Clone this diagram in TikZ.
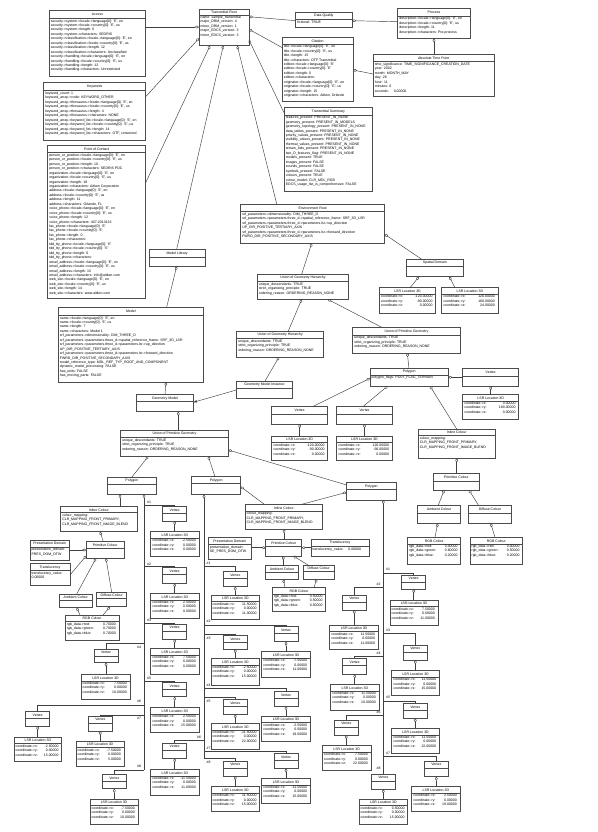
\documentclass[tikz,border=0pt]{standalone}
\usepackage{fontspec}
\setmainfont{Liberation Sans}
\usetikzlibrary{calc,arrows.meta}
\newcommand\dfont{\fontsize{3.5}{4.45}\selectfont}
\tikzset{
  ubx/.style={draw=black!70,line width=0.45pt,fill=white,rectangle,inner sep=0pt,outer sep=0pt},
  sepl/.style={draw=black!70,line width=0.45pt},
  ttl/.style={inner sep=0pt,font=\dfont},
  atr/.style={inner sep=0pt,font=\dfont,anchor=north west,align=left},
  lnk/.style={draw=black!75,line width=0.45pt},
  agg/.style={lnk,{Diamond[open,length=4.2pt,width=2.8pt]}-},
  arr/.style={lnk,-{Latex[length=3.6pt,width=2.6pt]}},
  num/.style={inner sep=0pt,font=\dfont},
}
\newcommand\ub[8]{%
  \node[ubx,minimum width={(#4)-(#2)},minimum height={(#5)-(#3)}] (#1) at ({((#2)+(#4))/2},{((#3)+(#5))/2}) {};
  \draw[sepl] ($(#1.north west)+(0,#6)$) -- ($(#1.north east)+(0,#6)$);
  \node[ttl] at ($(#1.north)+(0,{(#6)/2+0.2})$) {#7};
  \node[atr] at ($(#1.north west)+(1.4,{(#6)+1.0})$) {#8};
}
\newcommand\vtx[5]{\ub{#1}{#2}{#3}{#4}{#5}{7}{Vertex}{}}
\newcommand\lsr[8]{\ub{#1}{#2}{#3}{#4}{#5}{6.5}{LSR Location 3D}{coordinate->x:\\coordinate->y:\\coordinate->z:}%
  \node[atr,anchor=north east,align=right] at ($(#1.north east)+(-3,7.5)$) {#6\\#7\\#8};}
\newcommand\rgbc[8]{\ub{#1}{#2}{#3}{#4}{#5}{6.5}{RGB Colour}{rgb\_data->red:\\rgb\_data->green:\\rgb\_data->blue:}%
  \node[atr,anchor=north east,align=right] at ($(#1.north east)+(-3,7.5)$) {#6\\#7\\#8};}
\begin{document}
\catcode`\_=12
\begin{tikzpicture}[x=1pt,y=-1pt]
\fill[white] (0,0) rectangle (597,832);
\useasboundingbox (0,0) rectangle (597,832);

% ---------------- top left ----------------
\ub{access}{49.3}{10}{145.7}{76}{8.3}{Access}{security->system->locale->language[0]: 'E', en\\
security->system->locale->country[0]: 'E', us\\
security->system->length: 6\\
security->system->characters: SEDRIS\\
security->classification->locale->language[0]: 'E', en\\
security->classification->locale->country[0]: 'E', us\\
security->classification->length: 12\\
security->classification->characters: Unclassified\\
security->handling->locale->language[0]: 'E', en\\
security->handling->locale->country[0]: 'E', us\\
security->handling->length: 12\\
security->handling->characters: Unrestricted}

\ub{keywords}{43.7}{82.7}{145.7}{140.7}{8}{Keywords}{keyword_count: 1\\
keyword_array->code: KEYWORD_OTHER\\
keyword_array->thesaurus->locale->language[0]: 'E', en\\
keyword_array->thesaurus->locale->country[0]: 'E', us\\
keyword_array->thesaurus->length: 4\\
keyword_array->thesaurus->characters: NONE\\
keyword_array->keyword_list->locale->language[0]: 'E', en\\
keyword_array->keyword_list->locale->country[0]: 'E', us\\
keyword_array->keyword_list->length: 14\\
keyword_array->keyword_list->characters: OTF, converted}

\ub{poc}{47.7}{145.3}{145.7}{298.7}{7.3}{Point of Contact}{person_or_position->locale->language[0]: 'E', en\\
person_or_position->locale->country[0]: 'E', us\\
person_or_position->length: 10\\
person_or_position->characters: SEDRIS POC\\
organization->locale->language[0]: 'E', en\\
organization->locale->country[0]: 'E', us\\
organization->length: 18\\
organization->characters: Aitken Corporation\\
address->locale->language[0]: 'E', en\\
address->locale->country[0]: 'E', us\\
address->length: 11\\
address->characters: Orlando, FL\\
voice_phone->locale->language[0]: 'E', en\\
voice_phone->locale->country[0]: 'E', us\\
voice_phone->length: 12\\
voice_phone->characters: 407-2013123\\
fax_phone->locale->language[0]: 'E'\\
fax_phone->locale->country[0]: 'E'\\
fax_phone->length: 0\\
fax_phone->characters:\\
tdd_tty_phone->locale->language[0]: 'E'\\
tdd_tty_phone->locale->country[0]: 'E'\\
tdd_tty_phone->length: 0\\
tdd_tty_phone->characters:\\
email_address->locale->language[0]: 'E', en\\
email_address->locale->country[0]: 'E', us\\
email_address->length: 15\\
email_address->characters: info@aitken.com\\
web_site->locale->language[0]: 'E', en\\
web_site->locale->country[0]: 'E', us\\
web_site->length: 14\\
web_site->characters: www.aitken.com}

% ---------------- top middle / right ----------------
\ub{troot}{199}{9.3}{249}{45.7}{5.5}{Transmittal Root}{name: sample_transmittal\\
major_DRM_version: 4\\
minor_DRM_version: 1\\
major_EDCS_version: 3\\
minor_EDCS_version: 3}

\ub{dq}{295.7}{12.3}{352}{27.3}{7}{Data Quality}{fictional: TRUE}

\ub{citation}{282.3}{37.3}{353}{101.7}{6.7}{Citation}{title->locale->language[0]: 'E', en\\
title->locale->country[0]: 'E', us\\
title->length: 15\\
title->characters: OTF Transmittal\\
edition->locale->language[0]: 'E'\\
edition->locale->country[0]: 'E'\\
edition->length: 0\\
edition->characters:\\
originator->locale->language[0]: 'E', en\\
originator->locale->country[0]: 'E', us\\
originator->length: 15\\
originator->characters: Aitken, Orlando}

\ub{tsum}{284.3}{107.3}{372.3}{191.7}{7.7}{Transmittal Summary}{features_present: PRESENT_IN_NONE\\
geometry_present: PRESENT_IN_MODELS\\
geometry_topology_present: PRESENT_IN_NONE\\
data_tables_present: PRESENT_IN_NONE\\
priority_values_present: PRESENT_IN_NONE\\
visibility_values_present: PRESENT_IN_NONE\\
thermal_values_present: PRESENT_IN_NONE\\
terrain_lods_present: PRESENT_IN_NONE\\
two_D_features_flag: PRESENT_IN_NONE\\
models_present: TRUE\\
images_present: FALSE\\
sounds_present: FALSE\\
symbols_present: FALSE\\
colours_present: TRUE\\
colour_model: CLR_MDL_RGB\\
EDCS_usage_list_is_comprehensive: FALSE}

\ub{process}{397.7}{8.3}{470.3}{38.3}{7.7}{Process}{description->locale->language[0]: 'E', en\\
description->locale->country[0]: 'E', us\\
description->length: 11\\
description->characters: Pre-process}

\ub{atp}{373.3}{54.3}{494}{96.7}{7.3}{Absolute Time Point}{time_significance: TIME_SIGNIFICANCE_CREATION_DATE\\
year: 2002\\
month: MONTH_MAY\\
day: 26\\
hour: 11\\
minutes: 0\\
seconds:\ \ \ \ \ 0.00000}

\ub{envroot}{240.7}{204}{384.7}{243.3}{7.7}{Environment Root}{srf_parameters->dimensionality: DIM_THREE_D\\
srf_parameters->parameters.three_d->spatial_reference_frame: SRF_3D_LSR\\
srf_parameters->parameters.three_d->parameters.lsr->up_direction\\
UP_DIR_POSITIVE_TERTIARY_AXIS\\
srf_parameters->parameters.three_d->parameters.lsr->forward_direction\\
FWRD_DIR_POSITIVE_SECONDARY_AXIS}

% ---------------- model side ----------------
\ub{modlib}{149}{249}{205.3}{266.3}{8.3}{Model Library}{}

\ub{model}{58.3}{307}{203.3}{382}{8.3}{Model}{name->locale->language[0]: 'E', en\\
name->locale->country[0]: 'E', us\\
name->length: 7\\
name->characters: Model 1\\
srf_parameters->dimensionality: DIM_THREE_D\\
srf_parameters->parameters.three_d->spatial_reference_frame: SRF_3D_LSR\\
srf_parameters->parameters.three_d->parameters.lsr->up_direction\\
UP_DIR_POSITIVE_TERTIARY_AXIS\\
srf_parameters->parameters.three_d->parameters.lsr->forward_direction\\
FWRD_DIR_POSITIVE_SECONDARY_AXIS\\
model_reference_type: MDL_REF_TYP_ROOT_AND_COMPONENT\\
dynamic_model_processing: FALSE\\
has_units: FALSE\\
has_moving_parts: FALSE}

\ub{geomodel}{136.7}{394.3}{193.3}{411.7}{7.3}{Geometry Model}{}

% ---------------- environment side ----------------
\ub{spdom}{406.7}{259.3}{463}{276.7}{7}{Spatial Domain}{}
\lsr{lsrA}{379.3}{287.7}{435.7}{313.3}{-120.00000}{-90.00000}{0.00000}
\lsr{lsrB}{441.7}{287.7}{498}{313.3}{120.00000}{180.00000}{24.00000}

\ub{ugh1}{257.3}{274}{348.7}{299.3}{7.7}{Union of Geometry Hierarchy}{unique_descendants: TRUE\\
strict_organizing_principle: TRUE\\
ordering_reason: ORDERING_REASON_NONE}
\ub{ugh2}{236.7}{331}{323.7}{357}{7.7}{Union of Geometry Hierarchy}{unique_descendants: TRUE\\
strict_organizing_principle: TRUE\\
ordering_reason: ORDERING_REASON_NONE}
\ub{upgR}{352.7}{327.3}{460.3}{353}{7.7}{Union of Primitive Geometry}{unique_descendants: TRUE\\
strict_organizing_principle: TRUE\\
ordering_reason: ORDERING_REASON_NONE}
\ub{gmi}{236.3}{381}{292.7}{398.3}{7.7}{Geometry Model Instance}{}

\ub{polyT}{370}{368.7}{448.3}{386}{6.3}{Polygon}{polygon_flags: POLY_FLAG_TERRAIN}
\ub{vtxT}{462.7}{368.3}{518.7}{386}{8}{Vertex}{}
\lsr{lsrT}{462.7}{394.3}{518.7}{419.3}{0.00000}{180.00000}{0.00000}
\ub{vtxTa}{271.7}{406.3}{327.7}{424}{8}{Vertex}{}
\ub{vtxTb}{336.7}{406.3}{392.3}{424}{8}{Vertex}{}
\lsr{lsrTa}{271.7}{436}{327.7}{460.7}{-120.00000}{-90.00000}{0.00000}
\lsr{lsrTb}{336.7}{436}{392.3}{460.7}{120.00000}{-90.00000}{0.00000}

\ub{inlR}{418.3}{429}{495}{458.3}{6.7}{Inline Colour}{colour_mapping:\\
CLR_MAPPING_FRONT_PRIMARY,\\
CLR_MAPPING_FRONT_IMAGE_BLEND}
\ub{pcR}{433.3}{473.3}{479.3}{490}{8}{Primitive Colour}{}
\ub{ambR}{417.3}{505}{460.7}{523.3}{8}{Ambient Colour}{}
\ub{difR}{468.3}{505}{511.7}{523.3}{8}{Diffuse Colour}{}
\rgbc{rgbR1}{407.7}{537.3}{460.7}{564}{0.00000}{0.60000}{0.20000}
\rgbc{rgbR2}{470}{537.3}{522.7}{564}{0.00000}{0.50000}{0.20000}

% ---------------- model geometry ----------------
\ub{upgL}{120.7}{430}{228.3}{456.3}{7.7}{Union of Primitive Geometry}{unique_descendants: TRUE\\
strict_organizing_principle: TRUE\\
ordering_reason: ORDERING_REASON_NONE}
\ub{polyL}{107.3}{477.3}{156.3}{494}{7}{Polygon}{}
\ub{polyM}{191.7}{476.7}{240.7}{494.3}{7}{Polygon}{}
\ub{polyR}{346.7}{482.7}{396}{500}{7}{Polygon}{}

\ub{inlL}{60.7}{506.7}{137}{531.7}{6}{Inline Colour}{colour_mapping:\\
CLR_MAPPING_FRONT_PRIMARY,\\
CLR_MAPPING_FRONT_IMAGE_BLEND}
\ub{pdL}{30}{540}{69.3}{560.7}{7}{Presentation Domain}{presentation_domain:\\
PRES_DOM_OTW}
\ub{pcL}{86.3}{541.7}{124}{558.3}{7}{Primitive Colour}{}
\ub{trL}{30}{563.7}{70}{585.7}{7}{Translucency}{translucency_value:\\
0.00000}
\ub{ambL}{59.3}{594}{92.3}{607.7}{6.3}{Ambient Colour}{}
\ub{difL}{96.7}{592.3}{126.7}{606.7}{6.3}{Diffuse Colour}{}
\rgbc{rgbL}{65.3}{615}{119}{640}{0.70000}{0.70000}{0.70000}

\ub{inlM}{245}{504.3}{322.7}{529}{6.7}{Inline Colour}{colour_mapping:\\
CLR_MAPPING_FRONT_PRIMARY,\\
CLR_MAPPING_FRONT_IMAGE_BLEND}
\ub{pdM}{208.3}{537.7}{251}{559}{7}{Presentation Domain}{presentation_domain:\\
SE_PRES_DOM_OTW}
\ub{pcM}{265.7}{539.3}{301.7}{556}{7}{Primitive Colour}{}
\ub{trM}{311}{539.3}{369}{556.7}{7}{Translucency}{translucency_value:\ \ \ \ \ 0.00000}
\ub{ambM}{265.7}{565.7}{298.3}{579.3}{6.3}{Ambient Colour}{}
\ub{difM}{303.3}{565}{334.3}{579}{6.3}{Diffuse Colour}{}
\rgbc{rgbM}{272.3}{587.3}{325.7}{611.7}{0.50000}{0.50000}{0.50000}

% ---------------- vertices of left polygon ----------------
\vtx{vL1}{162.7}{506.7}{186.7}{521} \lsr{lL1}{150.7}{531.7}{199}{556}{-2.50000}{0.00000}{0.00000}
\vtx{vL2}{162.7}{567.7}{186.7}{583.3} \lsr{lL2}{150.7}{593.3}{199}{618.3}{2.50000}{0.00000}{0.00000}
\vtx{vL3}{162.7}{624}{186.7}{639} \lsr{lL3}{150.7}{648.3}{199}{674.3}{7.50000}{0.00000}{0.00000}
\vtx{vL4}{94}{649}{118}{662.3} \lsr{lL4}{81}{674.3}{130}{699}{7.50000}{0.00000}{10.00000}
\vtx{vL5}{162.7}{682.7}{186.7}{696.7} \lsr{lL5}{150.7}{707.7}{199}{732.3}{2.50000}{0.00000}{15.00000}
\vtx{vL6}{25.7}{711.7}{49.7}{726} \lsr{lL6}{14}{737}{61.7}{761.7}{-2.50000}{0.00000}{15.00000}
\vtx{vL7}{88.3}{716}{112.3}{731} \lsr{lL7}{76}{741}{124}{766.3}{-7.50000}{0.00000}{5.00000}
\vtx{vL8}{102.3}{774.3}{126.3}{788.7} \lsr{lL8}{90}{799}{138}{824}{-7.50000}{0.00000}{10.00000}

% ---------------- vertices of middle polygon ----------------
\vtx{vM1}{223.3}{571.7}{247.3}{586.7} \lsr{lM1}{211}{595}{259.7}{619.3}{11.50000}{0.00000}{11.00000}
\vtx{vM2}{274}{626.7}{298}{641.7} \lsr{lM2}{261.7}{651.7}{310.3}{677.3}{-7.50000}{0.00000}{11.00000}
\vtx{vM3}{223.3}{635.7}{247.3}{649} \lsr{lM3}{211}{658.3}{259.7}{685}{-2.50000}{0.00000}{15.00000}
\vtx{vM4}{274}{691.7}{298}{706} \lsr{lM4}{261.7}{716}{310.3}{741}{-2.50000}{0.00000}{19.00000}
\vtx{vM5}{223.3}{699.3}{247.3}{714.3} \lsr{lM5}{211}{723.3}{259.7}{749.3}{-11.50000}{0.00000}{22.00000}
\vtx{vM6}{162.7}{743}{186.7}{758.3} \lsr{lM6}{150.7}{769.3}{199}{795}{-11.50000}{0.00000}{11.00000}
\vtx{vM7}{274}{753.3}{298}{768.3} \lsr{lM7}{261.7}{778.3}{310.3}{803.3}{-11.50000}{0.00000}{15.00000}
\vtx{vM8}{223.3}{761}{247.3}{776} \lsr{lM8}{211}{786.7}{259.7}{811.7}{11.50000}{0.00000}{15.00000}

% ---------------- vertices of right polygon ----------------
\vtx{vR1}{401.7}{575}{425.7}{589} \lsr{lR1}{390}{600}{438}{625}{7.50000}{0.00000}{11.00000}
\vtx{vR2}{342.3}{595}{366.3}{610} \lsr{lR2}{329.7}{625}{378.3}{649}{11.50000}{0.00000}{11.00000}
\vtx{vR3}{403.3}{645}{427.3}{660} \lsr{lR3}{391.7}{670.7}{439.3}{695.7}{11.50000}{0.00000}{15.00000}
\vtx{vR4}{342.7}{658.3}{366.7}{674.3} \lsr{lR4}{330.7}{684.3}{379}{710}{11.50000}{0.00000}{10.00000}
\vtx{vR5}{403.3}{703.3}{427.3}{718.3} \lsr{lR5}{391.7}{728.3}{439.3}{753.3}{11.50000}{0.00000}{22.00000}
\vtx{vR6}{334.3}{720}{358.3}{735} \lsr{lR6}{322.3}{745.7}{371}{770}{7.50000}{0.00000}{22.00000}
\vtx{vR7}{424.3}{761}{448.3}{776.7} \lsr{lR7}{411.7}{786.7}{460}{811}{2.50000}{0.00000}{19.00000}
\vtx{vR8}{371.3}{774}{395.3}{789.3} \lsr{lR8}{359}{799}{407.7}{824}{0.50000}{0.00000}{15.00000}

% ---------------- connectors: top ----------------
\draw[agg] (troot.west |- 0,27) -- (access.east |- 0,27);
\draw[agg] (troot.west |- 0,38.3) -- (keywords.east |- 0,96.7);
\draw[agg] (troot.south -| 210,0) -- (poc.east |- 0,182.7);
\draw[agg] (troot.south -| 223.3,0) -- (modlib.north -| 176.7,0);
\draw[agg] (troot.south -| 237.3,0) -- (envroot.north -| 276.7,0);
\draw[agg] (troot.east |- 0,16.7) -- (dq.west |- 0,20.7);
\draw[agg] (troot.east |- 0,29.3) -- (citation.west |- 0,47.7);
\draw[agg] (troot.east |- 0,40) -- (tsum.west |- 0,113.3);
\draw[agg] (dq.east |- 0,20.7) -- (process.west |- 0,21.7);
\draw[agg] (process.south -| 434,0) -- (atp.north -| 434,0);
\draw[agg] (citation.east |- 0,70) -- (atp.west |- 0,74);

% ---------------- connectors: environment ----------------
\draw[agg] (envroot.east |- 0,234.3) -- (spdom.north -| 421.7,0);
\draw[agg] (envroot.south -| 311.7,0) -- (ugh1.north -| 301.7,0);
\draw[agg] (spdom.south -| 419,0) -- (lsrA.north -| 410,0);
\draw[agg] (spdom.south -| 449.3,0) -- (lsrB.north -| 455,0);
\draw[agg] (ugh1.south -| 301.7,0) -- (ugh2.north -| 288.3,0);
\draw[agg] (ugh1.south -| 327.7,0) -- (upgR.north -| 381.7,0);
\draw[agg] (ugh2.south -| 279,0) -- (gmi.north -| 265,0);
\draw[arr] (gmi.west |- 0,390) -- (geomodel.east |- 0,402.3);
\draw[agg] (upgR.south -| 407.3,0) -- (polyT.north -| 409,0);
\draw[agg] (polyT.east |- 0,377.3) -- (vtxT.west |- 0,377.3);
\draw[agg] (vtxT.south) -- (vtxT.south |- lsrT.north);
\draw[agg] (polyT.west |- 0,378.3) -- (vtxTa.north -| 313.3,0);
\draw[agg] (polyT.south -| 387.7,0) -- (vtxTb.north -| 363.3,0);
\draw[agg] (vtxTa.south) -- (vtxTa.south |- lsrTa.north);
\draw[agg] (vtxTb.south) -- (vtxTb.south |- lsrTb.north);
\draw[agg] (polyT.south -| 430,0) -- (inlR.north -| 456.7,0);
\draw[agg] (inlR.south -| 456.7,0) -- (pcR.north -| 456.7,0);
\draw[agg] (pcR.south -| 444.3,0) -- (ambR.north -| 438.3,0);
\draw[agg] (pcR.south -| 469,0) -- (difR.north -| 478.3,0);
\draw[agg] (ambR.south -| 437.7,0) -- (rgbR1.north -| 435,0);
\draw[agg] (difR.south -| 490.7,0) -- (rgbR2.north -| 495,0);

% ---------------- connectors: model ----------------
\draw[agg] (modlib.south -| 176.7,0) -- (model.north -| 166.7,0);
\draw[agg] (model.south -| 166,0) -- (geomodel.north -| 165,0);
\draw[agg] (geomodel.south -| 178.3,0) -- (upgL.north -| 178.3,0);
\draw[agg] (upgL.south -| 148.3,0) -- (polyL.north -| 131.7,0);
\draw[agg] (upgL.south -| 208.3,0) -- (polyM.north -| 215,0);
\draw[agg] (upgL.east |- 0,450) -- (polyR.west |- 0,485);

\draw[agg] (polyL.south -| 120,0) -- (inlL.north -| 120,0);
\draw[agg] (inlL.south -| 100,0) -- (pcL.north -| 103.3,0);
\draw[agg] (pcL.west |- 0,550) -- (pdL.east |- 0,550);
\draw[agg] (pcL.west |- 0,555.7) -- (trL.east |- 0,575);
\draw[agg] (pcL.south -| 96,0) -- (ambL.north -| 76.7,0);
\draw[agg] (pcL.south -| 106,0) -- (difL.north -| 111.7,0);
\draw[agg] (ambL.south -| 76.7,0) -- (rgbL.north -| 80,0);
\draw[agg] (difL.south -| 110,0) -- (rgbL.north -| 103,0);

\draw[agg] (polyM.east |- 0,486.7) -- (inlM.north -| 264.3,0);
\draw[agg] (polyR.west |- 0,492.3) -- (inlM.north -| 301.7,0);
\draw[agg] (inlM.south -| 284,0) -- (pcM.north -| 284,0);
\draw[agg] (pcM.west |- 0,547.7) -- (pdM.east |- 0,547.7);
\draw[agg] (pcM.east |- 0,547.7) -- (trM.west |- 0,547.7);
\draw[agg] (pcM.south -| 283.3,0) -- (ambM.north -| 283.3,0);
\draw[agg] (pcM.south -| 293.3,0) -- (difM.north -| 308,0);
\draw[agg] (ambM.south -| 283.3,0) -- (rgbM.north -| 285,0);
\draw[agg] (difM.south -| 316.7,0) -- (rgbM.north -| 314,0);

% ---------------- vertex buses ----------------
\coordinate (busL) at (144,770);
\coordinate (busM) at (204,758.3);
\draw[agg] (polyL.south -| busL) -- (busL);
\draw[agg] (polyM.south -| busM) -- (busM);
\draw[agg] (polyR.south -| vR8.north) -- (vR8.north);

\draw[lnk] (vL1.north) |- (144,505);
\draw[lnk] (vL2.north) |- (144,566.7);
\draw[lnk] (vL3.north) |- (144,623);
\draw[lnk] (vL4.north) |- (144,643.7);
\draw[lnk] (vL5.north) |- (144,681);
\draw[lnk] (vL6.north) |- (144,705.7);
\draw[lnk] (vL7.north) |- (144,715);
\draw[lnk] (vL8.north) |- (busL);

\draw[lnk] (vM1.north) |- (204,566);
\draw[lnk] (vM2.north) |- (204,625);
\draw[lnk] (vM3.north) |- (204,634);
\draw[lnk] (vM4.north) |- (204,688.3);
\draw[lnk] (vM5.north) |- (204,697.7);
\draw[lnk] (vM6.north) |- (204,740);
\draw[lnk] (vM7.north) |- (204,751.7);
\draw[lnk] (vM8.north) |- (busM);

\draw[lnk] (vR1.north) |- (383.3,573);
\draw[lnk] (vR2.north) |- (383.3,587.3);
\draw[lnk] (vR3.north) |- (383.3,633);
\draw[lnk] (vR4.north) |- (383.3,656.7);
\draw[lnk] (vR5.north) |- (383.3,701);
\draw[lnk] (vR6.north) |- (383.3,715.7);
\draw[lnk] (vR7.north) |- (383.3,756.7);

\foreach \v in {L1,L2,L3,L4,L5,L6,L7,L8,M1,M2,M3,M4,M5,M6,M7,M8,R1,R2,R3,R4,R5,R6,R7,R8}
  \draw[agg] (v\v.south) -- (v\v.south |- l\v.north);

% ---------------- order labels ----------------
\node[num] (nL1) at (149,502.5) {\#1};
\node[num] (nL2) at (149,564) {\#2};
\node[num] (nL3) at (149,620.5) {\#3};
\node[num] (nL4) at (139,647) {\#4};
\node[num] (nL5) at (149,678.5) {\#5};
\node[num] (nL6) at (139,701.5) {\#6};
\node[num] (nL7) at (139,718.5) {\#7};
\node[num] (nL8) at (139,766.5) {\#8};

\node[num] (nM1) at (208.5,563.5) {\#1};
\node[num] (nM2) at (208.5,621.5) {\#2};
\node[num] (nM3) at (208.5,638.5) {\#3};
\node[num] (nM4) at (208.5,685) {\#4};
\node[num] (nM5) at (208.5,701) {\#5};
\node[num] (nM6) at (199,737) {\#6};
\node[num] (nM7) at (208.5,748.5) {\#7};
\node[num] (nM8) at (208.5,762) {\#8};

\node[num] (nR1) at (388,569.5) {\#1};
\node[num] (nR2) at (378.5,584) {\#2};
\node[num] (nR3) at (388,630) {\#3};
\node[num] (nR4) at (378.5,653.5) {\#4};
\node[num] (nR5) at (388,697.5) {\#5};
\node[num] (nR6) at (378.5,712.5) {\#6};
\node[num] (nR7) at (388,753.5) {\#7};
\node[num] (nR8) at (378.5,768) {\#8};
\end{tikzpicture}
\end{document}
